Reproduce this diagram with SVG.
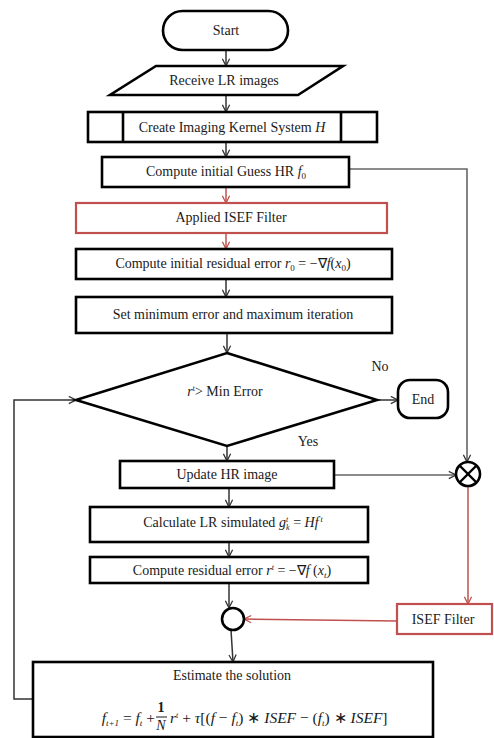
<svg xmlns="http://www.w3.org/2000/svg" width="494" height="738" viewBox="0 0 494 738">
<defs>
<marker id="ah" viewBox="0 0 10 10" refX="9" refY="5" markerWidth="9" markerHeight="9" markerUnits="userSpaceOnUse" orient="auto"><path d="M1,1 L9,5 L1,9" fill="none" stroke="#333" stroke-width="1.4"/></marker>
<marker id="ahr" viewBox="0 0 10 10" refX="9" refY="5" markerWidth="9" markerHeight="9" markerUnits="userSpaceOnUse" orient="auto"><path d="M1,1 L9,5 L1,9" fill="none" stroke="#c0504d" stroke-width="1.4"/></marker>
</defs>
<style>
.box{fill:#fff;stroke:#000;stroke-width:2.6}
.rbox{fill:#fff;stroke:#c0504d;stroke-width:2.2}
.t{font-family:"Liberation Serif","Times New Roman",serif;font-size:14px;fill:#1a1a1a;text-anchor:middle}
.m{font-style:italic}
.f{font-size:15.5px}
.c{fill:none;stroke:#333;stroke-width:1.5}
.cg{fill:none;stroke:#666;stroke-width:1.6}
.cr{fill:none;stroke:#c0504d;stroke-width:1.5}
</style>
<rect width="494" height="738" fill="#fff"/>
<g id="connectors">
<line class="c" x1="226" y1="50" x2="226" y2="66" marker-end="url(#ah)"/>
<line class="c" x1="226" y1="95" x2="226" y2="112" marker-end="url(#ah)"/>
<line class="c" x1="226" y1="142" x2="226" y2="157" marker-end="url(#ah)"/>
<line class="cr" x1="226" y1="187" x2="226" y2="203" marker-end="url(#ahr)"/>
<line class="cr" x1="226" y1="233" x2="226" y2="249" marker-end="url(#ahr)"/>
<line class="c" x1="226" y1="279" x2="226" y2="297" marker-end="url(#ah)"/>
<line class="c" x1="227" y1="333" x2="227" y2="353" marker-end="url(#ah)"/>
<line class="c" x1="377" y1="400" x2="398" y2="400" marker-end="url(#ah)"/>
<line class="c" x1="227" y1="446" x2="227" y2="461" marker-end="url(#ah)"/>
<polyline class="cg" points="349,169 467,169 467,462" marker-end="url(#ah)"/>
<line class="cg" x1="334" y1="475" x2="456" y2="475" marker-end="url(#ah)"/>
<line class="cr" x1="468" y1="486" x2="468" y2="604" marker-end="url(#ahr)"/>
<line class="c" x1="229" y1="488" x2="229" y2="507" marker-end="url(#ah)"/>
<line class="c" x1="229" y1="542" x2="229" y2="557" marker-end="url(#ah)"/>
<line class="c" x1="229" y1="583" x2="229" y2="608" marker-end="url(#ah)"/>
<line class="cr" x1="397" y1="621" x2="244" y2="619" marker-end="url(#ahr)"/>
<line class="c" x1="231" y1="630" x2="233" y2="662" marker-end="url(#ah)"/>
<polyline class="c" points="33,699 14,699 14,400 76,400" marker-end="url(#ah)"/>
</g>
<g id="start">
<rect class="box" x="163" y="11" width="125" height="39" rx="19.5"/>
<text class="t" x="226" y="35">Start</text>
</g>
<g id="receive">
<polygon class="box" points="156,66 343,66 298,95 110,95"/>
<text class="t" x="224" y="85">Receive LR images</text>
</g>
<g id="kernel">
<rect class="box" x="88" y="112" width="289" height="30"/>
<line x1="123" y1="112" x2="123" y2="142" stroke="#000" stroke-width="2.6"/>
<line x1="341" y1="112" x2="341" y2="142" stroke="#000" stroke-width="2.6"/>
<text class="t" x="232" y="132">Create Imaging Kernel System <tspan class="m">H</tspan></text>
</g>
<g id="guess">
<rect class="box" x="102" y="157" width="247" height="30"/>
<text class="t" x="226" y="176">Compute initial Guess HR <tspan class="m">f</tspan><tspan font-size="9" dy="3">0</tspan></text>
</g>
<g id="applied-isef">
<rect class="rbox" x="76" y="203" width="311" height="30"/>
<text class="t" x="231" y="222">Applied ISEF Filter</text>
</g>
<g id="initial-residual">
<rect class="box" x="76" y="249" width="316" height="30"/>
<text class="t" x="233" y="268">Compute initial residual error <tspan class="m">r</tspan><tspan font-size="9" dy="3">0</tspan><tspan dy="-3"> = −∇</tspan><tspan class="m">f</tspan>(<tspan class="m">x</tspan><tspan font-size="9" dy="3">0</tspan><tspan dy="-3">)</tspan></text>
</g>
<g id="set-min">
<rect class="box" x="76" y="297" width="316" height="36"/>
<text class="t" x="233" y="319">Set minimum error and maximum iteration</text>
</g>
<g id="decision">
<polygon class="box" points="227,353 377,400 227,446 76,400"/>
<text class="t" x="225" y="396"><tspan class="m">r</tspan><tspan font-size="8" dy="-5">t</tspan><tspan dy="5">&gt; Min Error</tspan></text>
<text class="t" x="380" y="371">No</text>
<text class="t" x="308" y="446">Yes</text>
</g>
<g id="end">
<rect class="box" x="398" y="380" width="50" height="38" rx="12"/>
<text class="t" x="423" y="404">End</text>
</g>
<g id="update">
<rect class="box" x="120" y="461" width="214" height="27"/>
<text class="t" x="227" y="479">Update HR image</text>
</g>
<g id="multiply">
<circle cx="468" cy="474" r="12" fill="#fff" stroke="#000" stroke-width="2.6"/>
<line x1="459.5" y1="465.5" x2="476.5" y2="482.5" stroke="#000" stroke-width="2.4"/>
<line x1="476.5" y1="465.5" x2="459.5" y2="482.5" stroke="#000" stroke-width="2.4"/>
</g>
<g id="calc-lr">
<rect class="box" x="90" y="507" width="278" height="35"/>
<text class="t" x="233" y="527">Calculate LR simulated  <tspan class="m">g</tspan><tspan class="m" font-size="8" dy="-5">t</tspan><tspan class="m" font-size="8" dx="-2" dy="8">k</tspan><tspan dy="-3"> = </tspan><tspan class="m">Hf</tspan><tspan class="m" font-size="8" dy="-5"> t</tspan></text>
</g>
<g id="residual">
<rect class="box" x="90" y="557" width="278" height="26"/>
<text class="t" x="232" y="575">Compute residual error <tspan class="m">r</tspan><tspan class="m" font-size="8" dy="-5">t</tspan><tspan dy="5"> = −∇</tspan><tspan class="m">f</tspan> (<tspan class="m">x</tspan><tspan class="m" font-size="9" dy="3">t</tspan><tspan dy="-3">)</tspan></text>
</g>
<g id="isef-filter">
<rect class="rbox" x="397" y="604" width="95" height="30"/>
<text class="t" x="443" y="624">ISEF Filter</text>
</g>
<g id="sum">
<circle cx="233" cy="619" r="11" fill="#fff" stroke="#000" stroke-width="2.6"/>
</g>
<g id="estimate">
<rect class="box" x="33" y="662" width="400" height="75"/>
<text class="t" x="232" y="680">Estimate the solution</text>
<text class="t m f" x="155" y="723" style="text-anchor:end">f<tspan font-size="9" dy="3">t+1</tspan><tspan font-style="normal" dy="-3"> = </tspan>f<tspan font-size="9" dy="3">t</tspan><tspan font-style="normal" dy="-3"> +</tspan></text>
<text class="t" x="161" y="712" font-size="12" font-weight="bold">1</text>
<line x1="156" y1="717" x2="167" y2="717" stroke="#1a1a1a" stroke-width="1"/>
<text class="t m" x="161" y="730" font-size="12">N</text>
<text class="t m f" x="170" y="723" style="text-anchor:start">r<tspan font-size="8" dy="-5">t</tspan><tspan font-style="normal" dy="5"> + </tspan>τ<tspan font-style="normal">[(</tspan>f<tspan font-style="normal"> − </tspan>f<tspan font-size="9" dy="3">t</tspan><tspan font-style="normal" dy="-3">) ∗ </tspan>ISEF<tspan font-style="normal"> − (</tspan>f<tspan font-size="9" dy="3">t</tspan><tspan font-style="normal" dy="-3">) ∗ </tspan>ISEF<tspan font-style="normal">]</tspan></text>
</g>
</svg>
